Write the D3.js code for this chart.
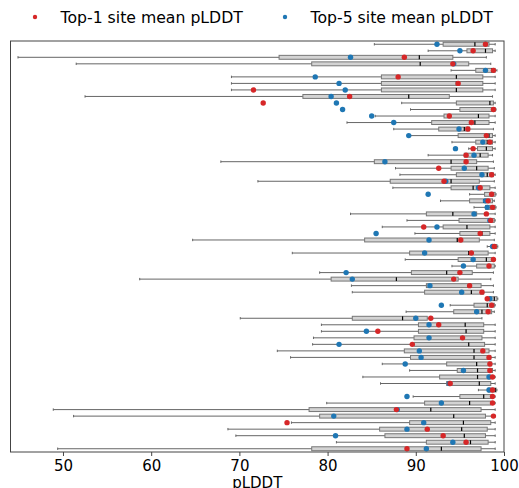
<!DOCTYPE html>
<html>
<head>
<meta charset="utf-8">
<script src="https://cdn.jsdelivr.net/npm/d3@7"></script>
<style>
  body { margin: 0; background: white; }
  svg { font-family: "DejaVu Sans", sans-serif; }
</style>
</head>
<body>
<div id="chart"></div>
<script>
// box plot stats per structure, top to bottom
const whiskerLo= [85.3,91.4,44.9,51.5,94.0,69.1,69.1,69.1,52.5,88.4,89.4,85.4,82.2,87.5,89.3,94.1,96.0,91.4,67.9,87.7,88.2,72.1,87.4,96.1,92.8,96.6,82.6,89.0,86.2,89.9,64.7,98.1,76.0,88.8,94.1,79.1,58.7,82.7,82.8,98.0,93.9,88.9,70.1,79.3,79.3,78.4,78.3,74.3,75.8,86.2,89.3,84.0,86.0,97.1,89.7,79.9,48.9,51.2,75.9,68.7,69.6,81.0,49.4];
const q1= [93.1,95.8,74.5,78.2,96.8,86.1,86.1,86.1,77.2,94.6,95.0,93.2,91.8,92.6,94.8,96.8,97.0,95.5,85.3,94.0,94.6,87.1,94.0,97.8,96.1,97.9,91.2,94.9,93.1,95.0,84.2,98.6,89.3,94.8,96.9,89.5,80.4,91.2,91.0,98.4,96.6,94.3,82.8,90.3,90.3,89.8,89.8,88.7,89.4,93.5,94.7,92.7,93.5,98.2,95.0,91.0,77.9,79.1,89.3,85.9,86.5,91.2,78.2];
const median= [96.7,97.9,90.4,90.5,98.6,94.6,94.6,94.6,89.2,98.4,98.8,97.1,96.7,95.5,98.3,98.1,98.0,97.3,94.0,96.9,98.1,94.0,96.5,98.7,97.7,98.8,94.2,98.3,95.8,97.5,94.7,99.0,96.0,98.0,98.2,93.5,87.8,96.2,96.3,98.9,98.1,97.5,88.5,95.6,95.7,95.3,96.0,96.6,96.6,96.9,97.0,97.0,97.2,99.0,97.7,96.1,91.7,94.3,95.4,95.2,95.5,96.2,92.9];
const q3= [98.3,98.7,94.2,96.0,99.0,97.6,97.6,97.6,93.8,98.8,99.0,98.3,98.3,96.1,98.7,98.7,98.7,98.2,96.9,98.2,98.8,97.2,98.4,99.0,98.7,99.0,96.9,98.9,98.4,98.4,97.2,99.2,98.2,98.6,98.9,96.4,94.8,97.4,97.7,99.2,98.9,98.6,91.3,97.7,97.7,97.5,97.8,98.3,98.5,98.6,98.7,98.5,98.5,99.1,98.7,98.5,97.4,97.9,98.5,98.1,97.9,98.2,97.4];
const whiskerHi= [99.0,99.0,98.0,98.5,99.2,99.0,99.0,99.0,98.7,99.0,99.1,99.0,99.0,98.8,99.0,99.0,99.0,98.7,98.8,98.9,99.0,98.9,99.0,99.1,98.9,99.1,99.0,99.0,99.0,99.0,98.9,99.3,99.0,99.0,99.0,98.8,98.5,98.8,98.8,99.3,99.0,98.9,97.5,99.0,99.0,99.0,99.0,99.0,99.0,99.0,99.0,99.0,99.0,99.2,99.0,99.0,99.0,99.0,99.0,99.0,99.0,99.0,99.0];

// site means
const top1= [97.9,96.5,88.7,94.2,98.8,88.0,94.8,71.6,82.5,72.7,98.8,93.8,96.3,95.9,98.0,98.4,96.5,95.7,95.7,92.6,98.6,93.2,97.3,98.6,98.2,98.7,98.0,98.5,90.9,97.3,95.1,98.9,96.3,98.8,98.3,95.0,94.3,96.1,97.5,98.1,98.6,98.2,91.7,92.6,85.7,95.3,89.6,97.6,98.3,98.4,98.4,98.7,93.9,98.7,98.7,98.7,87.8,98.8,75.4,91.3,93.1,95.7,89.0];
const top5= [92.4,95.0,82.6,94.3,97.9,78.6,81.3,82.0,80.4,81.0,81.7,85.0,87.5,94.9,89.2,97.6,94.5,96.6,86.5,95.5,97.5,93.4,97.1,91.4,97.9,98.1,96.6,98.4,92.4,85.5,91.5,98.7,91.0,96.5,95.4,82.1,82.8,91.6,95.2,98.4,92.9,96.9,90.0,91.5,84.4,91.5,81.3,90.4,90.6,88.8,95.4,98.3,93.8,98.3,89.0,92.9,87.9,80.7,90.9,89.0,80.9,94.2,91.2];

const xTicks= [50, 60, 70, 80, 90, 100];
const legendLabels= ["Top-1 site mean pLDDT", "Top-5 site mean pLDDT"];

const red= "#d62728";
const blue= "#1f77b4";

const width= 519, height= 488;
const plot= { left: 10.5, right: 504, top: 41, bottom: 452 };

const rows= whiskerLo.map((lo, i) => ({
    pos: i + 1,
    lo: lo, q1: q1[i], med: median[i], q3: q3[i], hi: whiskerHi[i],
    t1: top1[i], t5: top5[i]
}));

const x= d3.scaleLinear().domain([44.05, 100]).range([plot.left, plot.right]);
const y= d3.scaleLinear().domain([0.5, rows.length + 0.5]).range([plot.top, plot.bottom]);

const svg= d3.select("#chart").append("svg")
    .attr("width", width)
    .attr("height", height);

const boxH= y(1.3) - y(1);

const g= svg.append("g");

// whiskers
g.selectAll(".whisker")
    .data(rows)
    .join("line")
    .attr("x1", d => x(d.lo))
    .attr("x2", d => x(d.hi))
    .attr("y1", d => y(d.pos))
    .attr("y2", d => y(d.pos))
    .attr("stroke", "#666")
    .attr("stroke-width", 1);

// caps
["lo", "hi"].forEach(k => {
    g.selectAll(".cap-" + k)
        .data(rows)
        .join("line")
        .attr("x1", d => x(d[k]))
        .attr("x2", d => x(d[k]))
        .attr("y1", d => y(d.pos) - 1.2)
        .attr("y2", d => y(d.pos) + 1.2)
        .attr("stroke", "#666")
        .attr("stroke-width", 1);
});

// boxes
g.selectAll(".box")
    .data(rows)
    .join("rect")
    .attr("x", d => x(d.q1))
    .attr("y", d => y(d.pos) - boxH)
    .attr("width", d => x(d.q3) - x(d.q1))
    .attr("height", boxH * 2)
    .attr("fill", "#d3d3d3")
    .attr("stroke", "#777")
    .attr("stroke-width", 1);

// medians
g.selectAll(".median")
    .data(rows)
    .join("line")
    .attr("x1", d => x(d.med))
    .attr("x2", d => x(d.med))
    .attr("y1", d => y(d.pos) - boxH)
    .attr("y2", d => y(d.pos) + boxH)
    .attr("stroke", "black")
    .attr("stroke-width", 1.2);

// site mean points, top-5 first so top-1 sits above
g.selectAll(".t5")
    .data(rows)
    .join("circle")
    .attr("cx", d => x(d.t5))
    .attr("cy", d => y(d.pos))
    .attr("r", 2.7)
    .attr("fill", blue);

g.selectAll(".t1")
    .data(rows)
    .join("circle")
    .attr("cx", d => x(d.t1))
    .attr("cy", d => y(d.pos))
    .attr("r", 2.7)
    .attr("fill", red);

// frame
svg.append("rect")
    .attr("x", plot.left)
    .attr("y", plot.top)
    .attr("width", plot.right - plot.left)
    .attr("height", plot.bottom - plot.top)
    .attr("fill", "none")
    .attr("stroke", "#444")
    .attr("stroke-width", 1);

// x axis
const xAxis= svg.append("g")
    .attr("transform", `translate(0,${plot.bottom})`)
    .call(d3.axisBottom(x).tickValues(xTicks).tickSize(4).tickPadding(4));
xAxis.select(".domain").remove();
xAxis.selectAll(".tick line").attr("stroke", "#444");
xAxis.selectAll(".tick text")
    .attr("font-size", "15px")
    .attr("font-family", "DejaVu Sans")
    .attr("fill", "black");

// axis title sits at the bottom edge, partly clipped like the original
svg.append("text")
    .attr("x", (plot.left + plot.right) / 2)
    .attr("y", 488)
    .attr("text-anchor", "middle")
    .attr("font-size", "15px")
    .text("pLDDT");

// legend
const legendX= [35, 285];
const legendColors= [red, blue];
legendLabels.forEach((label, i) => {
    svg.append("circle")
        .attr("cx", legendX[i])
        .attr("cy", 17)
        .attr("r", 2.2)
        .attr("fill", legendColors[i]);
    svg.append("text")
        .attr("x", legendX[i] + 25.5)
        .attr("y", 23)
        .attr("font-size", "15.7px")
        .text(label);
});
</script>
</body>
</html>
